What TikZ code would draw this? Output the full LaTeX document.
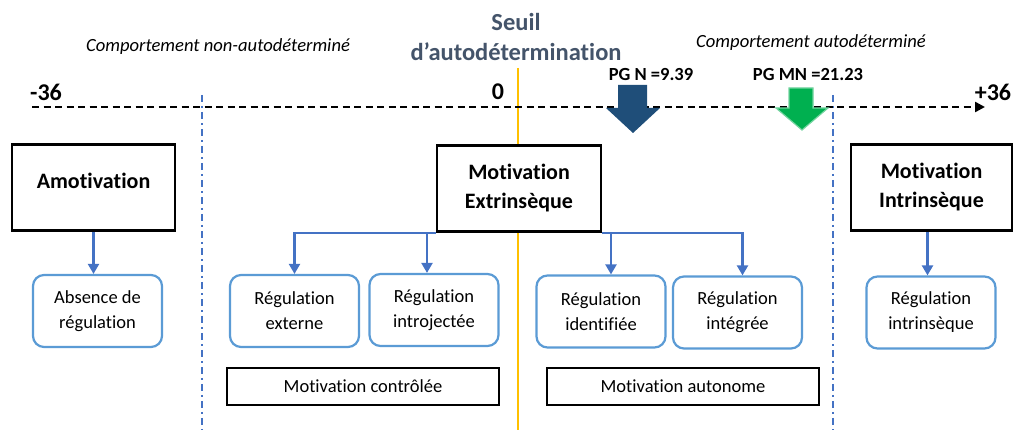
\documentclass[tikz,border=0pt]{standalone}
\usepackage{fontspec}
\setmainfont{Carlito}[Ligatures=NoCommon]
\usetikzlibrary{arrows.meta}

\definecolor{linkblue}{HTML}{4472C4}
\definecolor{regblue}{HTML}{5B9BD5}
\definecolor{darkarrow}{HTML}{1F4E79}
\definecolor{greenarrow}{HTML}{00B050}
\definecolor{seuilgray}{HTML}{44546A}
\definecolor{seuilorange}{HTML}{FFC000}

\begin{document}
\begin{tikzpicture}[x=1pt,y=-1pt]
  \tikzset{
    topbox/.style={
      draw, line width=2.6pt, fill=white, align=center, inner sep=0,
      minimum width=163, minimum height=86,
      font=\fontsize{22}{29}\selectfont\bfseries
    },
    regnode/.style={
      draw=regblue, line width=2.2pt, rounded corners=11pt, fill=white,
      align=center, minimum width=129, minimum height=72,
      font=\fontsize{18.5}{25}\selectfont
    },
    groupbox/.style={
      draw, line width=2.4pt, minimum width=272, minimum height=37,
      font=\fontsize{18.5}{20}\selectfont
    },
    link/.style={
      draw=linkblue, line width=2.2pt, -{Triangle[length=10pt,width=11pt]}
    },
    sepline/.style={
      linkblue, line width=2pt, dash pattern=on 7pt off 4pt on 2pt off 4pt
    },
    ticklabel/.style={font=\fontsize{24}{24}\selectfont\bfseries},
    zonelabel/.style={font=\fontsize{18.6}{20}\selectfont\itshape},
    pglabel/.style={font=\fontsize{18.5}{20}\selectfont\bfseries}
  }
  \useasboundingbox (0,0) rectangle (1013,430);

  % threshold and zone borders go behind the boxes
  \coordinate (stop) at (518,68);
  \coordinate (sbot) at (518,430);
  \draw[seuilorange, line width=2pt] (stop) -- (sbot);
  \foreach \i/\x in {1/202, 2/833} {
    \coordinate (ztop\i) at (\x,95);
    \coordinate (zbot\i) at (\x,430);
    \draw[sepline] (ztop\i) -- (zbot\i);
  }

  % axis
  \coordinate (axl) at (32,107);
  \coordinate (axr) at (985,107);
  \draw[line width=2.4pt, dash pattern=on 7pt off 4.5pt, -{Triangle[length=10pt,width=10pt]}] (axl) -- (axr);
  \node[ticklabel] (tmin) at (46,92) {-36};
  \node[ticklabel] (tzero) at (498,92) {0};
  \node[ticklabel] (tmax) at (993,92) {+36};

  \node[zonelabel] (nonauto) at (218,47) {Comportement non-autodéterminé};
  \node[zonelabel] (auto) at (811,43) {Comportement autodéterminé};
  \node[seuilgray, align=center, font=\fontsize{24.5}{30}\selectfont\bfseries] (seuil) at (516,37)
    {Seuil\\d’autodétermination};

  % group scores
  \node[pglabel] (pgn) at (651,75) {PG N =9.39};
  \node[pglabel] (pgmn) at (808,75) {PG MN =21.23};
  \fill[darkarrow] (618,85) -- (647,85) -- (647,108) -- (660,108) -- (633,133)
    -- (606,108) -- (618,108) -- cycle;
  \filldraw[fill=greenarrow, draw=greenarrow!55!white, line width=1.2pt]
    (789,88) -- (813,88) -- (813,108) -- (828,108) -- (802,130)
    -- (776,108) -- (789,108) -- cycle;

  % motivation types
  \node[topbox, text depth=14pt] (amot) at (93.5,187.5) {Amotivation};
  \node[topbox, minimum width=164] (extr) at (519,188.5) {Motivation\\Extrinsèque};
  \node[topbox, minimum width=161] (intr) at (931.5,187.5) {Motivation\\Intrinsèque};

  \foreach \nm/\px/\py/\txt in {
      absr/97.5/311/{Absence de\\régulation},
      rext/294.5/311/{Régulation\\externe},
      rintro/434/310/{Régulation\\introjectée},
      rident/601/311.5/{Régulation\\identifiée},
      rinteg/737.5/312.5/{Régulation\\intégrée},
      rintr/931/312.5/{Régulation\\intrinsèque}} {
    \node[regnode] (\nm) at (\px,\py) {\txt};
  }

  \node[groupbox] (controlee) at (363,386.5) {Motivation contrôlée};
  \node[groupbox] (autonome) at (683,386.5) {Motivation autonome};

  \draw[link] (amot.south) -- (amot.south |- absr.north);
  \draw[link] (extr.south west) -| (rext.north);
  \draw[link] ([xshift=-7]rintro.north |- extr.south) -- ([xshift=-7]rintro.north);
  \draw[link] (extr.south east) -| ([xshift=5]rinteg.north);
  \draw[link] ([xshift=10]rident.north |- extr.south) -- ([xshift=10]rident.north);
  \draw[link] ([xshift=-4]intr.south) -- ([xshift=-4]intr.south |- rintr.north);
\end{tikzpicture}
\end{document}
